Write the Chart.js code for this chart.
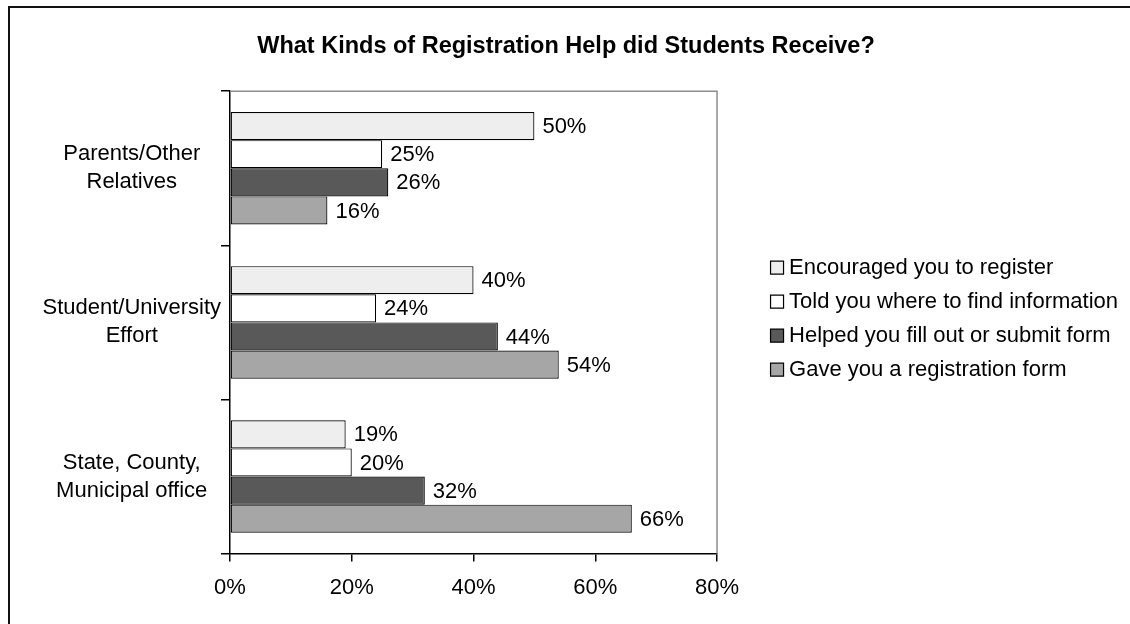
<!DOCTYPE html>
<html>
<head>
<meta charset="utf-8">
<script src="https://cdn.jsdelivr.net/npm/chart.js@4.4.1/dist/chart.umd.min.js"></script>
<style>
    body { margin: 0; background: #fff; }
    #frame {
        position: absolute; left: 8px; top: 6px; width: 1200px; height: 700px;
        border-left: 2px solid #111; border-top: 2px solid #111;
    }
    #wrap { position: absolute; left: 0; top: 0; width: 1130px; height: 624px; }
</style>
</head>
<body>
<div id="frame"></div>
<div id="wrap"><canvas id="chart"></canvas></div>
<script>
const categories = [
    ["Parents/Other", "Relatives"],
    ["Student/University", "Effort"],
    ["State, County,", "Municipal office"]
];
const seriesNames = [
    "Encouraged you to register",
    "Told you where to find information",
    "Helped you fill out or submit form",
    "Gave you a registration form"
];
const encouraged = [50, 40, 19];
const toldWhere = [25, 24, 20];
const helpedFill = [26, 44, 32];
const gaveForm = [16, 54, 66];
const xTicks = [0, 20, 40, 60, 80];

const fillColors = ["#eeeeee", "#ffffff", "#595959", "#a6a6a6"];
const fontFamily = "'Liberation Sans', Arial, sans-serif";

const datasets = [encouraged, toldWhere, helpedFill, gaveForm].map((values, i) => ({
    label: seriesNames[i],
    data: values,
    yAxisID: "y",
    backgroundColor: fillColors[i],
    borderColor: "#000",
    borderWidth: 1.2,
    borderSkipped: false,
    barPercentage: 1.0,
    categoryPercentage: 0.73
}));

// gray top/right edge of the plot area
const plotFrame = {
    id: "plotFrame",
    beforeDatasetsDraw(chart) {
        const { ctx, chartArea: a } = chart;
        ctx.save();
        ctx.strokeStyle = "#8c8c8c";
        ctx.lineWidth = 1.5;
        ctx.beginPath();
        ctx.moveTo(a.left, a.top);
        ctx.lineTo(a.right, a.top);
        ctx.lineTo(a.right, a.bottom);
        ctx.stroke();
        ctx.restore();
    }
};

// percentage labels at the end of each bar
const barLabels = {
    id: "barLabels",
    afterDatasetsDraw(chart) {
        const ctx = chart.ctx;
        ctx.save();
        ctx.font = `22px ${fontFamily}`;
        ctx.fillStyle = "#000";
        ctx.textAlign = "left";
        ctx.textBaseline = "middle";
        chart.data.datasets.forEach((ds, i) => {
            chart.getDatasetMeta(i).data.forEach((bar, j) => {
                ctx.fillText(ds.data[j] + "%", bar.x + 8, bar.y + 1);
            });
        });
        ctx.restore();
    }
};

new Chart(document.getElementById("chart"), {
    type: "bar",
    data: { labels: categories, datasets },
    plugins: [plotFrame, barLabels],
    options: {
        indexAxis: "y",
        responsive: true,
        maintainAspectRatio: false,
        animation: false,
        layout: { padding: { left: 4, right: 2, top: 14, bottom: 10 } },
        scales: {
            x: {
                min: 0,
                max: 80,
                afterBuildTicks: (axis) => { axis.ticks = xTicks.map(v => ({ value: v })); },
                ticks: {
                    callback: (v) => v + "%",
                    color: "#000",
                    padding: 13,
                    font: { family: fontFamily, size: 22 }
                },
                grid: { drawOnChartArea: false, tickLength: 8, color: "#000", lineWidth: 1.5 },
                border: { color: "#000", width: 1.5 }
            },
            y: {
                afterFit: (axis) => { axis.width = 226; },
                ticks: {
                    color: "#000",
                    padding: 0,
                    crossAlign: "center",
                    font: { family: fontFamily, size: 22, lineHeight: 1.27 }
                },
                grid: { offset: true, drawOnChartArea: false, tickLength: 9, color: "#000", lineWidth: 1.5 },
                border: { color: "#000", width: 1.5 }
            },
            // empty spacer between the plot and the legend
            gap: {
                type: "linear",
                axis: "y",
                position: "right",
                grid: { display: false },
                ticks: { display: false },
                border: { display: false },
                afterFit: (axis) => { axis.width = 47; }
            }
        },
        plugins: {
            title: {
                display: true,
                text: "What Kinds of Registration Help did Students Receive?",
                color: "#000",
                font: { family: fontFamily, size: 23.5, weight: "bold" },
                padding: { top: 18, bottom: 31 }
            },
            legend: {
                position: "right",
                maxWidth: 420,
                title: { display: true, text: "", font: { size: 7 }, padding: 0.5 },
                labels: {
                    color: "#000",
                    usePointStyle: true,
                    pointStyle: "rect",
                    boxWidth: 2,
                    boxHeight: 13,
                    padding: 12,
                    font: { family: fontFamily, size: 22 }
                }
            },
            tooltip: { enabled: false }
        }
    }
});
</script>
</body>
</html>
